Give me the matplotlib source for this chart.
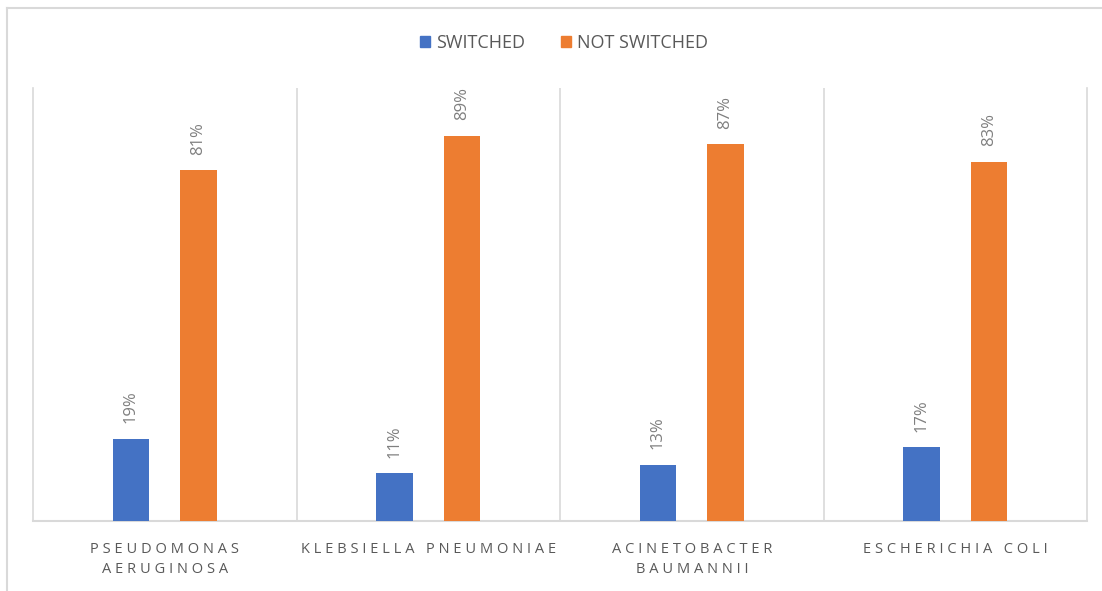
import matplotlib
matplotlib.use("Agg")
import matplotlib.pyplot as plt
from matplotlib.lines import Line2D
from matplotlib.patches import Patch
import numpy as np

categories = ["PSEUDOMONAS\nAERUGINOSA", "KLEBSIELLA PNEUMONIAE", "ACINETOBACTER\nBAUMANNII", "ESCHERICHIA COLI"]
switched = [19, 11, 13, 17]
not_switched = [81, 89, 87, 83]
series_names = ["SWITCHED", "NOT SWITCHED"]
colors = ["#4472C4", "#ED7D31"]

plt.rcParams['font.family'] = ['Open Sans', 'DejaVu Sans']

W, H = 1102, 591
fig = plt.figure(figsize=(W/100, H/100), dpi=100)
ax = fig.add_axes([33/W, (H-521)/H, (1087-33)/W, (521-88)/H])

x = np.arange(len(categories))
bw = 0.137
off = 0.128
b1 = ax.bar(x - off, switched, bw, color=colors[0], zorder=3)
b2 = ax.bar(x + off, not_switched, bw, color=colors[1], zorder=3)

for bars, vals in ((b1, switched), (b2, not_switched)):
    for r, v in zip(bars, vals):
        ax.annotate(f"{v}%", (r.get_x() + r.get_width()/2, r.get_height()),
                    xytext=(0, 11), textcoords="offset points", rotation=90,
                    ha="center", va="bottom", fontsize=12, color="#7f7f7f")

ax.set_xlim(-0.5, len(categories) - 0.5)
ax.set_ylim(0, 100)
ax.set_yticks([])
grid_col = "#d9d9d9"
for b in np.arange(0.5, len(categories) - 0.5, 1):
    ax.axvline(b, color=grid_col, lw=1.2, zorder=1)
for s in ("left", "right"):
    ax.spines[s].set_color(grid_col)
    ax.spines[s].set_linewidth(1.2)
ax.spines["top"].set_visible(False)
ax.spines["bottom"].set_color(grid_col)
ax.spines["bottom"].set_linewidth(1.5)

def spaced(s):
    return "\n".join("\u2009\u200a".join(line) for line in s.split("\n"))

ax.set_xticks(x)
ax.set_xticklabels([spaced(c) for c in categories], fontsize=10.5, color="#595959",
                   linespacing=1.5, va="top")
ax.tick_params(axis="x", length=0, pad=15)

handles = [Patch(color=c) for c in colors]
fig.legend(handles, series_names, loc="center", bbox_to_anchor=(564/W, 1 - 43/H),
           ncol=2, frameon=False, fontsize=13, labelcolor="#595959",
           handlelength=0.55, handleheight=0.55, handletextpad=0.35, columnspacing=2.0)

fig.add_artist(Line2D([7/W, 7/W], [0, 1 - 8/H], color=grid_col, lw=1.5, transform=fig.transFigure))
fig.add_artist(Line2D([7/W, 1], [1 - 8/H, 1 - 8/H], color=grid_col, lw=1.5, transform=fig.transFigure))

fig.savefig("out.png", dpi=100, facecolor="white")
